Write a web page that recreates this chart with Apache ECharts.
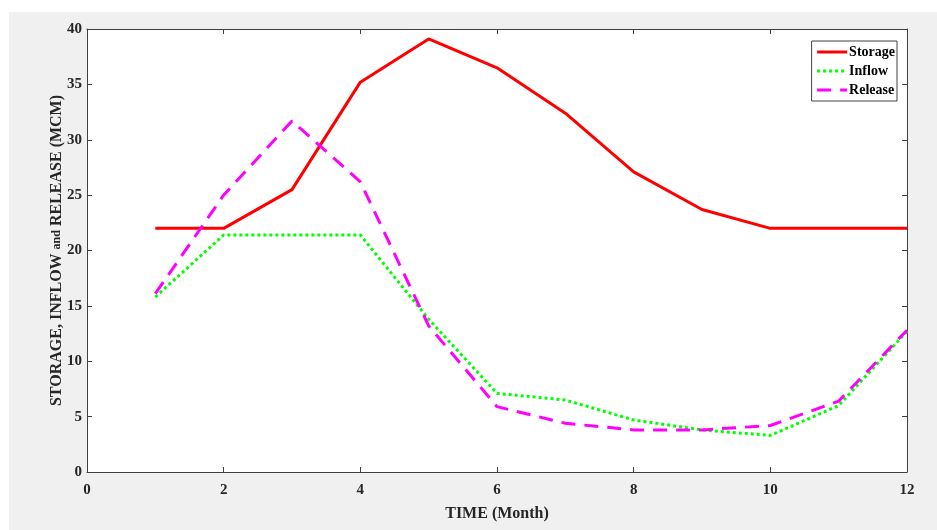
<!DOCTYPE html>
<html>
<head>
<meta charset="utf-8">
<script src="https://cdn.jsdelivr.net/npm/echarts@6/dist/echarts.min.js"></script>
<style>
html,body{margin:0;padding:0;background:#fff;}
#c{width:937px;height:530px;}
</style>
</head>
<body>
<div id="c"></div>
<script>
const months = [1,2,3,4,5,6,7,8,9,10,11,12];
const storage = [22.0,22.0,25.5,35.2,39.1,36.5,32.4,27.1,23.7,22.0,22.0,22.0];
const inflow  = [15.8,21.4,21.4,21.4,13.8,7.1,6.5,4.7,3.8,3.3,6.0,12.7];
const release = [16.1,25.0,31.7,26.2,13.2,5.9,4.4,3.8,3.8,4.2,6.4,12.8];
const xTicks = [0,2,4,6,8,10,12];
const yTicks = [0,5,10,15,20,25,30,35,40];

const font = '"Liberation Serif","Times New Roman",serif';
const axisColor = '#404040';
const pair = (arr) => months.map((m,i)=>[m,arr[i]]);
const tick = () => ({show:true, inside:true, length:5, lineStyle:{color:axisColor,width:1}});
const line = () => ({show:true, onZero:false, lineStyle:{color:axisColor,width:1}});

const chart = echarts.init(document.getElementById('c'));
chart.setOption({
  animation:false,
  backgroundColor:'#ffffff',
  graphic:[{type:'rect',shape:{x:9,y:12,width:928,height:518},style:{fill:'#f0f0f0'},z:-10,silent:true}],
  grid:{left:87,right:30,top:29,bottom:58,show:true,backgroundColor:'#ffffff',borderWidth:0},
  xAxis:[{
    type:'value',min:xTicks[0],max:xTicks[xTicks.length-1],interval:2,
    name:'TIME (Month)',nameLocation:'middle',nameGap:34,nameMoveOverlap:false,
    nameTextStyle:{fontFamily:font,fontWeight:'bold',fontSize:16,color:'#262626'},
    axisLine:line(),axisTick:tick(),splitLine:{show:false},
    axisLabel:{fontFamily:font,fontWeight:'bold',fontSize:15,color:'#262626',margin:11}
  },{
    type:'value',position:'top',min:0,max:12,interval:2,
    axisLine:line(),axisTick:tick(),axisLabel:{show:false},splitLine:{show:false}
  }],
  yAxis:[{
    type:'value',min:yTicks[0],max:yTicks[yTicks.length-1],interval:5,
    name:'{m|STORAGE, INFLOW }{s|and}{m| RELEASE (MCM)}',nameLocation:'middle',nameGap:22,nameMoveOverlap:false,
    nameTextStyle:{fontFamily:font,fontWeight:'bold',fontSize:16,color:'#262626',
      rich:{m:{fontFamily:font,fontWeight:'bold',fontSize:16,color:'#262626'},
            s:{fontFamily:font,fontWeight:'bold',fontSize:12,color:'#262626'}}},
    axisLine:line(),axisTick:tick(),splitLine:{show:false},
    axisLabel:{fontFamily:font,fontWeight:'bold',fontSize:15,color:'#262626',margin:5}
  },{
    type:'value',position:'right',min:0,max:40,interval:5,
    axisLine:line(),axisTick:tick(),axisLabel:{show:false},splitLine:{show:false}
  }],
  legend:{
    right:40,top:41,orient:'vertical',itemWidth:30,itemHeight:10,itemGap:5,
    backgroundColor:'#ffffff',borderColor:'#404040',borderWidth:1,borderRadius:0,
    padding:[4,2,4,4],
    itemStyle:{opacity:0},
    lineStyle:{width:3},
    textStyle:{fontFamily:font,fontWeight:'bold',fontSize:14,color:'#000',padding:[0,0,0,-3]},
    data:['Storage','Inflow','Release']
  },
  series:[
    {name:'Storage',type:'line',data:pair(storage),symbol:'none',
     lineStyle:{color:'#ff0000',width:3},itemStyle:{color:'#ff0000'}},
    {name:'Inflow',type:'line',data:pair(inflow),symbol:'none',
     lineStyle:{color:'#00ff00',width:3,type:[3,3]},itemStyle:{color:'#00ff00'}},
    {name:'Release',type:'line',data:pair(release),symbol:'none',
     lineStyle:{color:'#ff00ff',width:3,type:[14,9]},itemStyle:{color:'#ff00ff'}}
  ]
});
</script>
</body>
</html>
